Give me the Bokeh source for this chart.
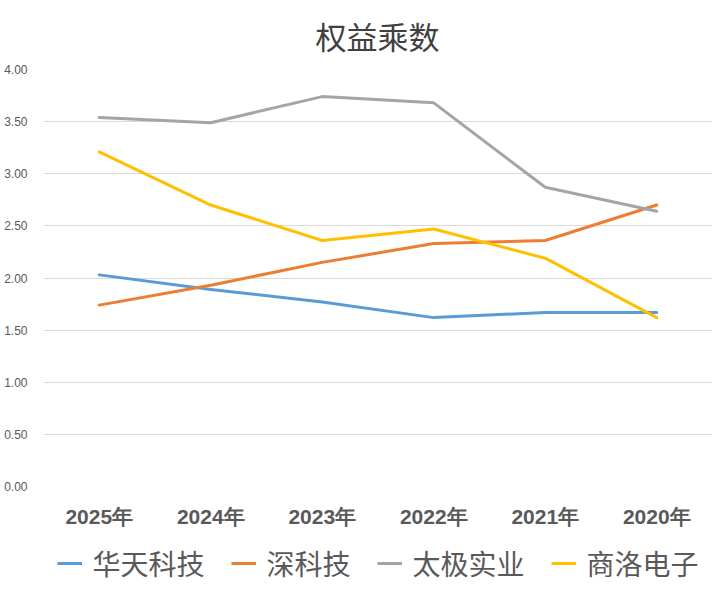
from bokeh.plotting import figure
from bokeh.models import FactorRange, Range1d, Legend, LegendItem, Label
from bokeh.layouts import column
from bokeh.embed import file_html
from bokeh.resources import INLINE

years = ["2025年", "2024年", "2023年", "2022年", "2021年", "2020年"]
huatian = [2.03, 1.89, 1.77, 1.62, 1.67, 1.67]
shenkeji = [1.74, 1.93, 2.15, 2.33, 2.36, 2.70]
taiji = [3.54, 3.49, 3.74, 3.68, 2.87, 2.64]
shangluo = [3.21, 2.70, 2.36, 2.47, 2.19, 1.62]
series_names = ["华天科技", "深科技", "太极实业", "商洛电子"]
colors = ["#5B9BD5", "#ED7D31", "#A5A5A5", "#FFC000"]
y_ticks = [0, 0.5, 1, 1.5, 2, 2.5, 3, 3.5, 4]
title_text = "权益乘数"
all_series = [huatian, shenkeji, taiji, shangluo]


def strip(height, left=0):
    f = figure(width=712, height=height, output_backend="svg", toolbar_location=None,
               min_border_left=left, min_border_right=0, min_border_top=0, min_border_bottom=0,
               x_axis_type=None, y_axis_type=None,
               x_range=FactorRange(*years), y_range=Range1d(100, 101))
    f.outline_line_color = None
    f.xgrid.grid_line_color = None
    f.ygrid.grid_line_color = None
    f.border_fill_color = "white"
    f.background_fill_color = "white"
    return f


# title strip (frame aligned with the chart's frame, which starts at x=43)
top = strip(56, left=43)
top.add_layout(Label(x=334, y=21, x_units="screen", y_units="screen", text=title_text,
                     text_align="center", text_baseline="middle",
                     text_font="Noto Sans CJK SC", text_font_size="31px",
                     text_color="#404040"))

# main chart
p = figure(x_range=FactorRange(*years, range_padding=0), y_range=Range1d(0, 4),
           width=712, height=480, output_backend="svg",
           toolbar_location=None, min_border_left=43, min_border_right=0,
           min_border_top=13, min_border_bottom=50)
p.outline_line_color = None
p.background_fill_color = "white"
p.border_fill_color = "white"

p.xgrid.grid_line_color = None
p.ygrid.grid_line_color = "#D9D9D9"
p.ygrid.grid_line_width = 1

p.yaxis.ticker = y_ticks
p.yaxis.major_label_overrides = {t: f"{t:.2f}" for t in y_ticks}
p.yaxis.axis_line_color = None
p.yaxis.major_tick_line_color = None
p.yaxis.minor_tick_line_color = None
p.yaxis.major_label_text_font = "Liberation Sans"
p.yaxis.major_label_text_font_size = "12px"
p.yaxis.major_label_text_color = "#595959"
p.yaxis.major_label_standoff = 10

p.xaxis.axis_line_color = None
p.xaxis.major_tick_line_color = None
p.xaxis.minor_tick_line_color = None
p.xaxis.major_label_text_font = "Liberation Sans"
p.xaxis.major_label_text_font_size = "21px"
p.xaxis.major_label_text_font_style = "bold"
p.xaxis.major_label_text_color = "#595959"
p.xaxis.major_label_standoff = 12

for vals, c in zip(all_series, colors):
    p.line(years, vals, line_color=c, line_width=3, line_join="round", line_cap="round")

# legend strip (its lines lie outside its y range, only the legend shows)
leg = strip(54, left=43)
items = []
for name, vals, c in zip(series_names, all_series, colors):
    r = leg.line(years, vals, line_color=c, line_width=3)
    items.append(LegendItem(label=name, renderers=[r]))

legend = Legend(items=items, orientation="horizontal", location="center")
legend.label_text_font = "Noto Sans CJK SC"
legend.label_text_font_size = "28px"
legend.label_text_color = "#595959"
legend.glyph_width = 25
legend.glyph_height = 30
legend.label_standoff = 11
legend.spacing = 26
legend.border_line_color = None
legend.background_fill_alpha = 0
legend.margin = 0
legend.padding = 0
leg.add_layout(legend, "center")

layout = column(top, p, leg, spacing=0)
open("out.html", "w").write(file_html(layout, INLINE))
